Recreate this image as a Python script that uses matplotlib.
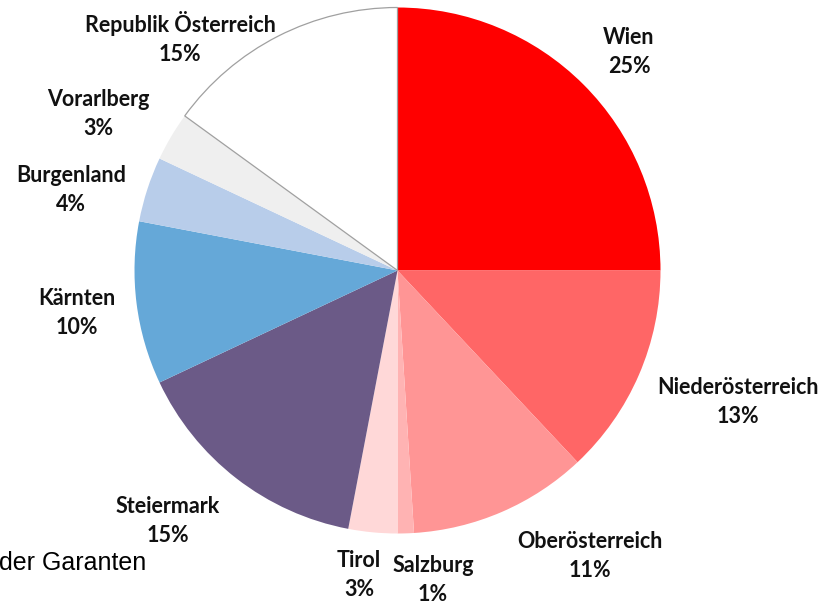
import matplotlib
matplotlib.use("Agg")
import matplotlib.pyplot as plt

categories = ["Wien", "Niederösterreich", "Oberösterreich", "Salzburg", "Tirol",
              "Steiermark", "Kärnten", "Burgenland", "Vorarlberg", "Republik Österreich"]
shares = [25, 13, 11, 1, 3, 15, 10, 4, 3, 15]
colors = ["#FF0000", "#FF6666", "#FF9595", "#FFB3B3", "#FFD8D8",
          "#6B5A87", "#65A8D8", "#B8CDEA", "#EFEFEF", "#FFFFFF"]
# label anchor positions in pixel coordinates (layout)
label_pos = [(629, 52), (738, 402), (590, 556), (433, 580), (359, 575),
             (168, 521), (77, 313), (71, 190), (98, 114), (180, 38)]

W, H = 823, 607
fig = plt.figure(figsize=(W / 100, H / 100), dpi=100)
ax = fig.add_axes([0, 0, 1, 1])

cx, cy, r = 397.5, H - 270.5, 263
wedges, _ = ax.pie(shares, colors=colors, startangle=90, counterclock=False,
                   center=(cx, cy), radius=r, frame=True,
                   wedgeprops=dict(linewidth=0))
ax.set_xlim(0, W)
ax.set_ylim(0, H)
ax.set_aspect("equal")
ax.axis("off")
wedges[-1].set_edgecolor("#A0A0A0")
wedges[-1].set_linewidth(0.9)

for name, val, (px, py) in zip(categories, shares, label_pos):
    ax.text(px, H - py, f"{name}\n{val}%", ha="center", va="center",
            fontsize=15.5, fontweight="bold", family="Lato", color="#111111",
            linespacing=1.42)

ax.text(-1, H - 563, "der Garanten", ha="left", va="center",
        fontsize=18, family="Liberation Sans", color="#000000")

fig.savefig("out.png", dpi=100)
